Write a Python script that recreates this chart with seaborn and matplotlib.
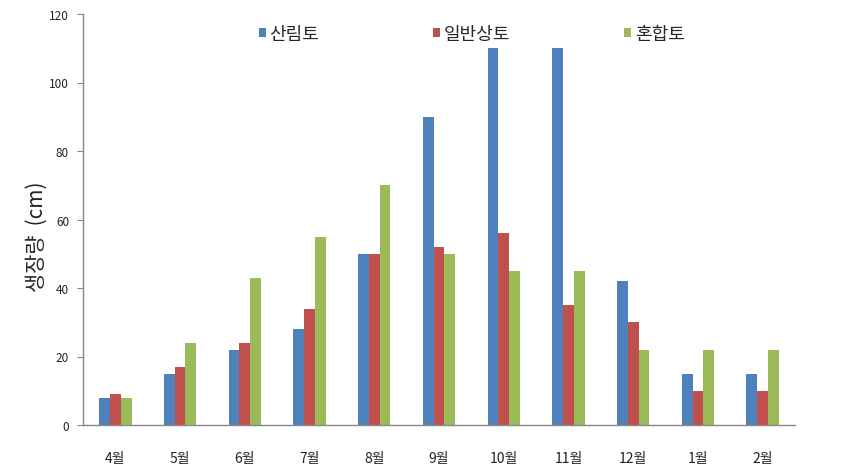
import matplotlib
matplotlib.use("Agg")
import matplotlib.pyplot as plt
import seaborn as sns
import pandas as pd
from matplotlib.patches import Patch

months = ["4월", "5월", "6월", "7월", "8월", "9월", "10월", "11월", "12월", "1월", "2월"]
series_names = ["산림토", "일반상토", "혼합토"]
forest = [8, 15, 22, 28, 50, 90, 110, 110, 42, 15, 15]
general = [9, 17, 24, 34, 50, 52, 56, 35, 30, 10, 10]
mixed = [8, 24, 43, 55, 70, 50, 45, 45, 22, 22, 22]
colors = ["#4F81BD", "#C0504D", "#9BBB59"]
yticks = [0, 20, 40, 60, 80, 100, 120]

sns.set_style("white")
plt.rcParams['font.family'] = ['Noto Sans CJK KR', 'DejaVu Sans']

rows = []
for name, vals in zip(series_names, [forest, general, mixed]):
    for m, v in zip(months, vals):
        rows.append({"month": m, "series": name, "value": v})
df = pd.DataFrame(rows)

fig = plt.figure(figsize=(8.66, 4.77), dpi=100)
ax = fig.add_axes([83/866, 1-426/477, (795-83)/866, (426-15)/477])

sns.barplot(data=df, x="month", y="value", hue="series", order=months,
            hue_order=series_names, palette=colors, width=0.5, saturation=1,
            edgecolor="none", linewidth=0, ax=ax, legend=False)

ax.set_xlim(-0.5, len(months) - 0.5)
ax.set_ylim(0, 120)
ax.set_yticks(yticks)
ax.set_yticklabels([str(t) for t in yticks], fontsize=8.5, color="#222222")
ax.tick_params(axis="y", length=4, width=0.8, color="#888888", direction="out", pad=6, left=True)
ax.tick_params(axis="x", length=0, pad=19, labelsize=10, labelcolor="#222222")
ax.set_xlabel("")
ax.set_ylabel("생장량  (cm)", fontsize=15)
ax.yaxis.set_label_coords(-0.05, 0.46)
for s in ["top", "right"]:
    ax.spines[s].set_visible(False)
for s in ["left", "bottom"]:
    ax.spines[s].set_color("#888888")
    ax.spines[s].set_linewidth(1.0)

handles = [Patch(facecolor=c, edgecolor="none") for c in colors]
leg = ax.legend(handles, series_names, loc="upper center", bbox_to_anchor=(0.546, 0.99),
                ncol=3, frameon=False, fontsize=13, handlelength=0.4, handleheight=0.4,
                handletextpad=0.2, columnspacing=6.3, borderaxespad=0.0)

fig.savefig("out.png", dpi=100)
